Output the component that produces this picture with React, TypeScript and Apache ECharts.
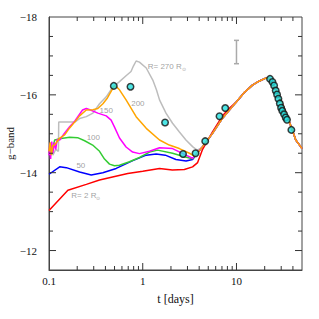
import React, { useEffect, useRef } from 'react';
import * as echarts from 'echarts';

// Common rising / peak / decline branch (days, g-band mag)
const riseDays = [4.35, 5.55, 7.1, 8.5, 10, 12, 14.8, 17.4, 20.5, 22.3, 26.2, 30.8, 34.9, 39.4, 42.9, 48.4, 50];
const riseMag = [-14.67, -15.01, -15.40, -15.62, -15.82, -16.05, -16.25, -16.35, -16.43, -16.42, -16.13, -15.78, -15.44, -15.10, -14.84, -14.67, -14.62];

const redEarly = [[0.1, -13.03], [0.159, -13.55], [0.25, -13.7], [0.346, -13.81], [0.476, -13.89], [0.692, -13.98], [1.0, -14.04], [1.51, -14.11], [2.07, -14.07], [2.78, -14.08], [3.4, -14.15], [3.85, -14.26], [4.35, -14.6], [5.55, -15.05], [7.1, -15.46], [8.5, -15.67]];
const blueEarly = [[0.1, -13.96], [0.13, -14.15], [0.153, -14.13], [0.212, -14.02], [0.282, -13.94], [0.375, -14.0], [0.521, -14.11], [0.783, -14.31], [1.09, -14.45], [1.39, -14.48], [1.74, -14.45], [2.26, -14.34], [2.9, -14.3], [3.4, -14.34]];
const greenEarly = [[0.1, -14.5], [0.104, -14.7], [0.108, -14.55], [0.115, -14.84], [0.135, -14.88], [0.166, -14.91], [0.202, -14.9], [0.24, -14.82], [0.292, -14.71], [0.346, -14.55], [0.391, -14.35], [0.442, -14.22], [0.5, -14.18], [0.565, -14.19], [0.722, -14.28], [0.922, -14.39], [1.18, -14.53], [1.44, -14.58], [2.08, -14.5], [2.78, -14.41], [3.4, -14.36]];
const magentaEarly = [[0.1, -14.45], [0.102, -14.75], [0.104, -14.35], [0.107, -14.8], [0.11, -14.5], [0.114, -14.78], [0.118, -14.6], [0.122, -14.85], [0.13, -14.84], [0.145, -15.0], [0.166, -15.18], [0.185, -15.3], [0.203, -15.44], [0.228, -15.61], [0.25, -15.65], [0.277, -15.61], [0.332, -15.53], [0.408, -15.46], [0.46, -15.35], [0.5, -15.17], [0.565, -14.89], [0.664, -14.66], [0.78, -14.53], [0.922, -14.49], [1.18, -14.55], [1.51, -14.64], [2.08, -14.62], [2.89, -14.45], [3.4, -14.37]];
const orangeEarly = [[0.1, -14.55], [0.103, -14.78], [0.106, -14.45], [0.11, -14.7], [0.115, -14.71], [0.13, -14.89], [0.147, -14.97], [0.166, -15.15], [0.188, -15.3], [0.212, -15.46], [0.25, -15.61], [0.294, -15.62], [0.332, -15.65], [0.376, -15.77], [0.42, -15.92], [0.488, -16.2], [0.511, -16.23], [0.565, -16.13], [0.664, -15.87], [0.85, -15.44], [1.09, -15.14], [1.51, -14.84], [1.92, -14.71], [2.46, -14.62], [3.15, -14.5], [3.6, -14.42]];
const grayEarly = [[0.1, -14.5], [0.105, -14.65], [0.11, -14.45], [0.118, -14.6], [0.126, -14.55], [0.127, -15.3], [0.188, -15.3], [0.212, -15.39], [0.25, -15.44], [0.294, -15.53], [0.346, -15.77], [0.408, -15.95], [0.478, -16.2], [0.565, -16.34], [0.664, -16.49], [0.75, -16.6], [0.795, -16.74], [0.85, -16.87], [0.922, -16.84], [1.09, -16.69], [1.28, -16.38], [1.4, -16.13], [1.51, -15.87], [1.77, -15.53], [2.08, -15.27], [2.45, -15.05], [2.89, -14.84], [3.4, -14.67], [3.8, -14.58], [4.35, -14.65], [5.0, -14.85]];

const obsDays = [0.491, 0.74, 1.73, 2.69, 3.66, 4.64, 6.59, 7.59, 22.8, 24.2, 25.2, 26.2, 27.1, 28.0, 29.0, 29.9, 30.8, 32.2, 33.5, 34.6, 38.5];
const obsMag = [-16.23, -16.21, -15.29, -14.48, -14.5, -14.81, -15.45, -15.66, -16.41, -16.33, -16.24, -16.11, -16.01, -15.9, -15.78, -15.67, -15.59, -15.5, -15.42, -15.36, -15.1];

const errBar = [[10, -17.4, -16.8]];

const annText = ['R= 270 R{s|⊙}', '200', '150', '100', '50', 'R= 2 R{s|⊙}'];
const annDays = [1.13, 0.753, 0.346, 0.252, 0.196, 0.173];
const annMag = [-16.72, -15.78, -15.59, -14.9, -14.19, -13.42];

const xMinorTicks = [0.2, 0.3, 0.4, 0.5, 0.6, 0.7, 0.8, 0.9, 2, 3, 4, 5, 6, 7, 8, 9, 20, 30, 40];
const xMajorTicks = [1, 10];
const yMinorTicks = [-17.5, -17, -16.5, -15.5, -15, -14.5, -13.5, -13, -12.5];
const yMajorTicks = [-16, -14, -12];

function withRise(early: number[][], startIdx: number) {
  const out = early.map((p) => [p[0], p[1]]);
  for (let i = startIdx; i < riseDays.length; i++) out.push([riseDays[i], riseMag[i]]);
  return out;
}

function tickRender(params: any, api: any) {
  const cs = params.coordSys;
  const style = { stroke: '#333', lineWidth: 1 };
  const children: any[] = [];
  const xt = (v: number, len: number) => {
    const x = api.coord([v, -15])[0];
    children.push({ type: 'line', shape: { x1: x, y1: cs.y + cs.height, x2: x, y2: cs.y + cs.height - len }, style });
    children.push({ type: 'line', shape: { x1: x, y1: cs.y, x2: x, y2: cs.y + len }, style });
  };
  const yt = (v: number, len: number) => {
    const y = api.coord([1, v])[1];
    children.push({ type: 'line', shape: { x1: cs.x, y1: y, x2: cs.x + len, y2: y }, style });
    children.push({ type: 'line', shape: { x1: cs.x + cs.width, y1: y, x2: cs.x + cs.width - len, y2: y }, style });
  };
  xMinorTicks.forEach((v) => xt(v, 4));
  xMajorTicks.forEach((v) => xt(v, 7));
  yMinorTicks.forEach((v) => yt(v, 4));
  yMajorTicks.forEach((v) => yt(v, 7));
  return { type: 'group', children };
}

export default function App() {
  const ref = useRef<HTMLDivElement>(null);
  useEffect(() => {
    if (!ref.current) return;
    const chart = echarts.init(ref.current, null, { renderer: 'svg' });
    const serif = 'Liberation Serif';
    const lineSeries = (name: string, data: number[][], color: string) => ({
      name,
      type: 'line',
      data,
      showSymbol: false,
      symbol: 'none',
      lineStyle: { color, width: 1.5 },
      z: 3,
    });

    chart.setOption({
      animation: false,
      grid: { left: 49, right: 17, top: 17, bottom: 49, outerBoundsMode: 'none', containLabel: false, show: true, borderColor: '#444', borderWidth: 1, backgroundColor: 'transparent' },
      xAxis: {
        type: 'log',
        min: 0.1,
        max: 50,
        logBase: 10,
        axisLine: { show: true, lineStyle: { color: '#444', width: 1 } },
        axisTick: { show: false },
        splitLine: { show: false },
        axisLabel: {
          color: '#111',
          fontFamily: serif,
          fontSize: 11,
          margin: 5,
          formatter: (v: number) => {
            const l = Math.log10(v);
            if (Math.abs(l - Math.round(l)) > 1e-6) return '';
            return v < 1 ? '0.1' : String(Math.round(v));
          },
        },
        name: 't [days]',
        nameLocation: 'middle',
        nameGap: 23,
        nameTextStyle: { color: '#111', fontFamily: serif, fontSize: 12 },
      },
      yAxis: {
        type: 'value',
        min: -18,
        max: -11.5,
        interval: 2,
        inverse: true,
        axisLine: { show: true, lineStyle: { color: '#444', width: 1 } },
        axisTick: { show: false },
        splitLine: { show: false },
        axisLabel: {
          color: '#111',
          fontFamily: serif,
          fontSize: 11,
          margin: 12,
          formatter: (v: number) => (Math.abs(v % 2) < 1e-6 ? '\u2212' + Math.abs(v) : ''),
        },
        name: 'g\u2212band',
        nameLocation: 'middle',
        nameGap: 34,
        nameMoveOverlap: false,
        nameTextStyle: { color: '#111', fontFamily: serif, fontSize: 11 },
      },
      series: [
        {
          type: 'custom',
          silent: true,
          z: 6,
          data: [[1, -15]],
          renderItem: tickRender,
        },
        {
          type: 'custom',
          renderItem: (params: any, api: any) => {
            const p1 = api.coord([api.value(0), api.value(1)]);
            const p2 = api.coord([api.value(0), api.value(2)]);
            const style = { stroke: '#aaaaaa', lineWidth: 1.5 };
            return {
              type: 'group',
              children: [
                { type: 'line', shape: { x1: p1[0], y1: p1[1], x2: p2[0], y2: p2[1] }, style },
                { type: 'line', shape: { x1: p1[0] - 2.5, y1: p1[1], x2: p1[0] + 2.5, y2: p1[1] }, style },
                { type: 'line', shape: { x1: p2[0] - 2.5, y1: p2[1], x2: p2[0] + 2.5, y2: p2[1] }, style },
              ],
            };
          },
          data: errBar,
          silent: true,
          z: 2,
        },
        lineSeries('270', withRise(grayEarly, 1), '#bdbdbd'),
        lineSeries('2', withRise(redEarly, 4), '#ff0000'),
        lineSeries('50', withRise(blueEarly, 0), '#0000ff'),
        lineSeries('100', withRise(greenEarly, 0), '#33cc33'),
        lineSeries('150', withRise(magentaEarly, 0), '#ff00ff'),
        lineSeries('200', withRise(orangeEarly, 0), '#ffa500'),
        {
          type: 'scatter',
          data: obsDays.map((d, i) => [d, obsMag[i]]),
          symbol: 'circle',
          symbolSize: 6.5,
          itemStyle: { color: '#22e0e0', borderColor: '#111', borderWidth: 1.5 },
          z: 5,
        },
        {
          type: 'scatter',
          data: annDays.map((d, i) => ({ value: [d, annMag[i]], label: { formatter: annText[i] } })),
          symbolSize: 0,
          silent: true,
          label: {
            show: true,
            position: [0, 0],
            align: 'left',
            verticalAlign: 'middle',
            color: '#888',
            fontFamily: 'Liberation Sans',
            fontSize: 8,
            rich: { s: { fontSize: 5, color: '#888', padding: [5, 0, 0, 0] } },
          },
          z: 4,
        },
      ],
    });
    return () => chart.dispose();
  }, []);
  return <div ref={ref} style={{ position: 'fixed', left: 0, top: 0, width: 319, height: 319, background: '#fff' }} />;
}
